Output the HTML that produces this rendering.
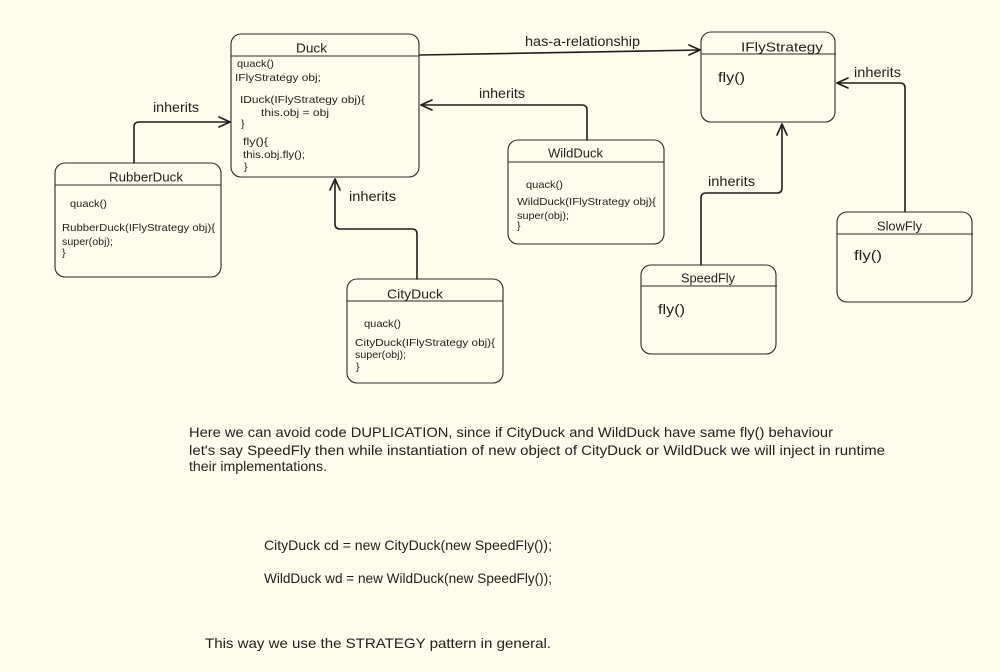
<!DOCTYPE html>
<html>
<head>
<meta charset="utf-8">
<style>
html,body{margin:0;padding:0;background:#fefcea;}
svg{display:block;}
text{font-family:"Liberation Sans",sans-serif;fill:#1e1e1e;dominant-baseline:central;}
.t{font-size:13px;}
.s{font-size:10.5px;}
.p{font-size:14px;}
.box{fill:none;stroke:#2a2a2a;stroke-width:1.1;}
.ln{fill:none;stroke:#1e1e1e;stroke-width:1.6;stroke-linecap:round;stroke-linejoin:round;}
</style>
</head>
<body>
<svg width="1000" height="672" viewBox="0 0 1000 672" xmlns="http://www.w3.org/2000/svg">
<rect x="0" y="0" width="1000" height="672" fill="#fefcea"/>

<!-- Duck -->
<rect class="box" x="231" y="34" width="188" height="143" rx="10"/>
<line class="box" x1="231" y1="56" x2="419" y2="56"/>
<text class="t" x="296" y="48" textLength="31" lengthAdjust="spacingAndGlyphs">Duck</text>
<text class="s" x="237" y="64" textLength="37" lengthAdjust="spacingAndGlyphs">quack()</text>
<text class="s" x="235" y="78" textLength="86" lengthAdjust="spacingAndGlyphs">IFlyStrategy obj;</text>
<text class="s" x="240" y="100" textLength="125" lengthAdjust="spacingAndGlyphs">IDuck(IFlyStrategy obj){</text>
<text class="s" x="261" y="113" textLength="68" lengthAdjust="spacingAndGlyphs">this.obj = obj</text>
<text class="s" x="241" y="124">}</text>
<text class="s" x="243" y="142" textLength="25" lengthAdjust="spacingAndGlyphs">fly(){</text>
<text class="s" x="243" y="155" textLength="62" lengthAdjust="spacingAndGlyphs">this.obj.fly();</text>
<text class="s" x="244" y="167">}</text>

<!-- IFlyStrategy -->
<rect class="box" x="701" y="32" width="134" height="90" rx="10"/>
<line class="box" x1="701" y1="54" x2="836" y2="54"/>
<text class="t" x="741" y="47" textLength="82" lengthAdjust="spacingAndGlyphs">IFlyStrategy</text>
<text class="p" x="718" y="77" textLength="27" lengthAdjust="spacingAndGlyphs">fly()</text>

<!-- RubberDuck -->
<rect class="box" x="55" y="163" width="166" height="114" rx="10"/>
<line class="box" x1="55" y1="185" x2="221" y2="185"/>
<text class="t" x="109" y="177" textLength="74" lengthAdjust="spacingAndGlyphs">RubberDuck</text>
<text class="s" x="70" y="204" textLength="37" lengthAdjust="spacingAndGlyphs">quack()</text>
<text class="s" x="62" y="228" textLength="153" lengthAdjust="spacingAndGlyphs">RubberDuck(IFlyStrategy obj){</text>
<text class="s" x="62" y="242" textLength="51" lengthAdjust="spacingAndGlyphs">super(obj);</text>
<text class="s" x="62" y="253">}</text>

<!-- WildDuck -->
<rect class="box" x="508" y="140" width="156" height="104" rx="10"/>
<line class="box" x1="508" y1="162" x2="664" y2="162"/>
<text class="t" x="548" y="153" textLength="55" lengthAdjust="spacingAndGlyphs">WildDuck</text>
<text class="s" x="526" y="185" textLength="37" lengthAdjust="spacingAndGlyphs">quack()</text>
<text class="s" x="517" y="202" textLength="139" lengthAdjust="spacingAndGlyphs">WildDuck(IFlyStrategy obj){</text>
<text class="s" x="517" y="216" textLength="52" lengthAdjust="spacingAndGlyphs">super(obj);</text>
<text class="s" x="517" y="226">}</text>

<!-- CityDuck -->
<rect class="box" x="347" y="279" width="156" height="104" rx="10"/>
<line class="box" x1="347" y1="301" x2="503" y2="301"/>
<text class="t" x="387" y="294" textLength="56" lengthAdjust="spacingAndGlyphs">CityDuck</text>
<text class="s" x="364" y="324" textLength="37" lengthAdjust="spacingAndGlyphs">quack()</text>
<text class="s" x="355" y="343" textLength="140" lengthAdjust="spacingAndGlyphs">CityDuck(IFlyStrategy obj){</text>
<text class="s" x="355" y="355" textLength="51" lengthAdjust="spacingAndGlyphs">super(obj);</text>
<text class="s" x="356" y="367">}</text>

<!-- SpeedFly -->
<rect class="box" x="641" y="265" width="135" height="89" rx="10"/>
<line class="box" x1="641" y1="286" x2="777" y2="286"/>
<text class="t" x="681" y="278" textLength="54" lengthAdjust="spacingAndGlyphs">SpeedFly</text>
<text class="p" x="658" y="309" textLength="27" lengthAdjust="spacingAndGlyphs">fly()</text>

<!-- SlowFly -->
<rect class="box" x="837" y="212" width="135" height="90" rx="10"/>
<line class="box" x1="837" y1="234" x2="973" y2="234"/>
<text class="t" x="877" y="226" textLength="45" lengthAdjust="spacingAndGlyphs">SlowFly</text>
<text class="p" x="854" y="255" textLength="28" lengthAdjust="spacingAndGlyphs">fly()</text>

<!-- Connectors -->
<!-- has-a -->
<path class="ln" d="M420 55 L700 50"/>
<path class="ln" d="M689 45 L700 50 L689 55"/>
<text class="p" x="525" y="41" textLength="115" lengthAdjust="spacingAndGlyphs">has-a-relationship</text>

<!-- WildDuck -> Duck -->
<path class="ln" d="M587 140 L587 110 Q587 105 582 105 L421 105"/>
<path class="ln" d="M432 100 L421 105 L432 110"/>
<text class="p" x="479" y="93" textLength="46" lengthAdjust="spacingAndGlyphs">inherits</text>

<!-- RubberDuck -> Duck -->
<path class="ln" d="M134 163 L134 127 Q134 122 139 122 L230 122"/>
<path class="ln" d="M219 117 L230 122 L219 127"/>
<text class="p" x="153" y="107" textLength="46" lengthAdjust="spacingAndGlyphs">inherits</text>

<!-- CityDuck -> Duck -->
<path class="ln" d="M417 279 L417 234 Q417 229 412 229 L340 229 Q335 229 335 224 L335 179"/>
<path class="ln" d="M330 190 L335 179 L340 190"/>
<text class="p" x="349" y="196" textLength="47" lengthAdjust="spacingAndGlyphs">inherits</text>

<!-- SpeedFly -> IFlyStrategy -->
<path class="ln" d="M701 265 L701 198 Q701 193 706 193 L777 193 Q782 193 782 188 L782 124"/>
<path class="ln" d="M777 135 L782 124 L787 135"/>
<text class="p" x="708" y="181" textLength="47" lengthAdjust="spacingAndGlyphs">inherits</text>

<!-- SlowFly -> IFlyStrategy -->
<path class="ln" d="M905 211 L905 88 Q905 83 900 83 L837 83"/>
<path class="ln" d="M848 78 L837 83 L848 88"/>
<text class="p" x="854" y="72" textLength="47" lengthAdjust="spacingAndGlyphs">inherits</text>

<!-- Paragraph -->
<text class="p" x="189" y="432" textLength="644" lengthAdjust="spacingAndGlyphs">Here we can avoid code DUPLICATION, since if CityDuck and WildDuck have same fly() behaviour</text>
<text class="p" x="189" y="450" textLength="696" lengthAdjust="spacingAndGlyphs">let's say SpeedFly then while instantiation of new object of CityDuck or WildDuck we will inject in runtime</text>
<text class="p" x="189" y="466" textLength="138" lengthAdjust="spacingAndGlyphs">their implementations.</text>

<text class="p" x="264" y="545" textLength="288" lengthAdjust="spacingAndGlyphs">CityDuck cd = new CityDuck(new SpeedFly());</text>
<text class="p" x="264" y="578" textLength="288" lengthAdjust="spacingAndGlyphs">WildDuck wd = new WildDuck(new SpeedFly());</text>

<text class="p" x="205" y="643" textLength="346" lengthAdjust="spacingAndGlyphs">This way we use the STRATEGY pattern in general.</text>
</svg>
</body>
</html>
